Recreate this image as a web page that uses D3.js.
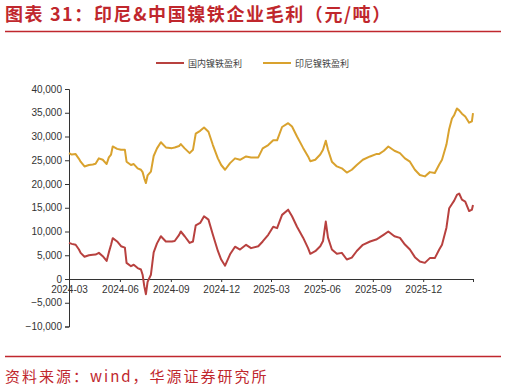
<!DOCTYPE html>
<html>
<head>
<meta charset="utf-8">
<script src="https://cdn.jsdelivr.net/npm/d3@7"></script>
<style>
  body { margin: 0; background: #fff; }
  svg { display: block; font-family: Arial, "Liberation Sans", sans-serif; }
  .axis path, .axis line { stroke: #333; }
  .axis text { fill: #333; font-size: 10px; }
</style>
</head>
<body>
<svg id="chart" width="506" height="390"></svg>
<script>
'use strict';

// dates of the readings (roughly weekly, denser around sharp moves)
var dates = [
  '2024-03-01','2024-03-06','2024-03-13','2024-03-19','2024-03-22','2024-03-29','2024-04-06','2024-04-13',
  '2024-04-18','2024-04-24','2024-05-01','2024-05-08','2024-05-12','2024-05-16','2024-05-19','2024-05-27',
  '2024-06-03','2024-06-10','2024-06-13','2024-06-21','2024-06-26','2024-07-03','2024-07-09','2024-07-12',
  '2024-07-15','2024-07-18','2024-07-21','2024-07-27','2024-08-01','2024-08-07','2024-08-14','2024-08-23',
  '2024-09-03','2024-09-08','2024-09-16','2024-09-19','2024-09-26','2024-10-05','2024-10-11','2024-10-16',
  '2024-10-24','2024-10-31','2024-11-08','2024-11-16','2024-11-25','2024-12-01','2024-12-08','2024-12-17',
  '2024-12-26','2025-01-04','2025-01-15','2025-01-24','2025-02-06','2025-02-14','2025-02-24','2025-03-05',
  '2025-03-12','2025-03-21','2025-04-01','2025-04-08','2025-04-17','2025-04-28','2025-05-07','2025-05-11',
  '2025-05-20','2025-05-29','2025-06-03','2025-06-08','2025-06-12','2025-06-19','2025-06-28','2025-07-07',
  '2025-07-16','2025-07-25','2025-08-03','2025-08-14','2025-08-27','2025-09-07','2025-09-12','2025-09-21',
  '2025-09-29','2025-10-10','2025-10-20','2025-10-29','2025-11-07','2025-11-16','2025-11-25','2025-12-04',
  '2025-12-13','2025-12-22','2025-12-30','2026-01-04','2026-01-12','2026-01-17','2026-01-22','2026-01-26',
  '2026-01-31','2026-02-04','2026-02-09','2026-02-15','2026-02-22','2026-02-27','2026-03-01'
]

// 国内镍铁盈利 (元/吨)
var domesticProfit = [
  7600, 7400, 7200, 6200, 5500, 4700, 5000, 5100,
  5150, 5500, 4800, 3800, 5600, 7200, 8600, 7900,
  6900, 6600, 3400, 2700, 3000, 2300, 2000, 900,
  -1500, -3200, -600, 900, 5600, 7500, 9000, 7900,
  7900, 8000, 9300, 10000, 9000, 7600, 7900, 11300,
  11800, 13200, 12500, 9300, 5900, 4100, 2800, 5200,
  6800, 6200, 7200, 6500, 6900, 7900, 9300, 11000,
  10700, 13500, 14600, 13200, 11000, 8700, 6500, 5300,
  5850, 6900, 8000, 12100, 8700, 6200, 5300, 5500,
  4100, 4500, 5900, 7200, 7900, 8300, 8650, 9350,
  10000, 9000, 8650, 7250, 6200, 4600, 3700, 3400,
  4400, 4400, 6200, 7200, 10800, 14900, 15800, 16500,
  17700, 18000, 16700, 16300, 14300, 14600, 15600
]

// 印尼镍铁盈利 (元/吨)
var indonesiaProfit = [
  26500, 26200, 26300, 25300, 24700, 23700, 24000, 24100,
  24250, 25400, 25100, 24200, 25600, 26200, 27900, 27400,
  27200, 27200, 24700, 24000, 24200, 23300, 23000, 22500,
  21200, 20200, 21800, 22600, 25900, 27500, 28800, 27700,
  27550, 27700, 28000, 28400, 27500, 26500, 27200, 30600,
  31200, 31900, 31000, 28200, 25400, 24000, 23000, 24400,
  25400, 25100, 25800, 25600, 25600, 27500, 28200, 29200,
  29200, 32000, 32800, 32100, 30000, 27600, 25800, 24800,
  25100, 26200, 27200, 29100, 27200, 24700, 23700, 23300,
  22400, 23000, 24000, 25100, 25800, 26300, 26300, 27000,
  27900, 27000, 26500, 25400, 24700, 23000, 21900, 21600,
  22500, 22300, 24100, 25100, 28300, 31600, 33800, 34500,
  35900, 35500, 34800, 34200, 32900, 33200, 34900
]

var seriesNames = ['国内镍铁盈利', '印尼镍铁盈利']
,   seriesColors = ['#b8413f', '#d9a22e']
,   yTicks = [-10000, -5000, 0, 5000, 10000, 15000, 20000, 25000, 30000, 35000, 40000]
,   xTicks = ['2024-03', '2024-06', '2024-09', '2024-12', '2025-03', '2025-06', '2025-09', '2025-12', '2026-03']

var parseDay = d3.timeParse('%Y-%m-%d')
,   parseMonth = d3.timeParse('%Y-%m')
,   fmtMonth = d3.timeFormat('%Y-%m')
,   svg = d3.select('#chart')
,   titleRed = '#c0272d'
,   lastTick = xTicks[xTicks.length - 1]

var series = [domesticProfit, indonesiaProfit].map((values, i) => ({
  name: seriesNames[i],
  color: seriesColors[i],
  points: values.map((v, j) => ({ date: parseDay(dates[j]), value: v }))
}))

var x = d3.scaleTime()
  .domain([parseMonth(xTicks[0]), parseMonth(lastTick)])
  .range([69, 473])

var y = d3.scaleLinear()
  .domain([-10000, 40000])
  .range([326.5, 89])

// title + rules
svg.append('text')
  .attr('x', 5)
  .attr('y', 21)
  .attr('fill', titleRed)
  .style('font-family', '"Noto Sans CJK SC", sans-serif')
  .style('font-weight', 'bold')
  .style('font-size', '18px')
  .style('letter-spacing', '1.6px')
  .text('图表 31：印尼&中国镍铁企业毛利（元/吨）')

svg.append('line')
  .attr('x1', 5).attr('x2', 501)
  .attr('y1', 31.5).attr('y2', 31.5)
  .attr('stroke', titleRed)
  .attr('stroke-width', 1.5)

svg.append('line')
  .attr('x1', 5).attr('x2', 501)
  .attr('y1', 356.5).attr('y2', 356.5)
  .attr('stroke', titleRed)
  .attr('stroke-width', 1.5)

svg.append('text')
  .attr('x', 5)
  .attr('y', 382)
  .attr('fill', titleRed)
  .style('font-family', '"Noto Sans CJK SC", sans-serif')
  .style('font-size', '15px')
  .style('letter-spacing', '2px')
  .text('资料来源：wind，华源证券研究所')

// legend
var legend = svg.append('g').attr('class', 'legend')
  .selectAll('g')
  .data(series)
  .enter().append('g')
  .attr('transform', (d, i) => 'translate(' + (156 + i * 107) + ',63)')

legend.append('line')
  .attr('x1', 0).attr('x2', 28)
  .attr('stroke', (d) => d.color)
  .attr('stroke-width', 2)

legend.append('text')
  .attr('x', 32)
  .attr('y', 3.5)
  .attr('fill', '#444')
  .style('font-family', '"Noto Sans CJK SC", sans-serif')
  .style('font-size', '9px')
  .text((d) => d.name)

// axes
svg.append('g')
  .attr('class', 'axis')
  .attr('transform', 'translate(69,0)')
  .call(d3.axisLeft(y).tickValues(yTicks).tickFormat(d3.format(',')).tickSize(4).tickPadding(3))

// last tick has no label in the original
svg.append('g')
  .attr('class', 'axis')
  .attr('transform', 'translate(0,' + y(0) + ')')
  .call(d3.axisBottom(x).tickValues(xTicks.map(parseMonth))
    .tickFormat((d) => fmtMonth(d) === lastTick ? '' : fmtMonth(d))
    .tickSize(3).tickPadding(4))

// lines
var line = d3.line()
  .x((d) => x(d.date))
  .y((d) => y(d.value))

svg.append('g')
  .selectAll('path')
  .data(series)
  .enter().append('path')
  .attr('d', (d) => line(d.points))
  .attr('fill', 'none')
  .attr('stroke', (d) => d.color)
  .attr('stroke-width', 2)
  .attr('stroke-linejoin', 'round')
</script>
</body>
</html>
